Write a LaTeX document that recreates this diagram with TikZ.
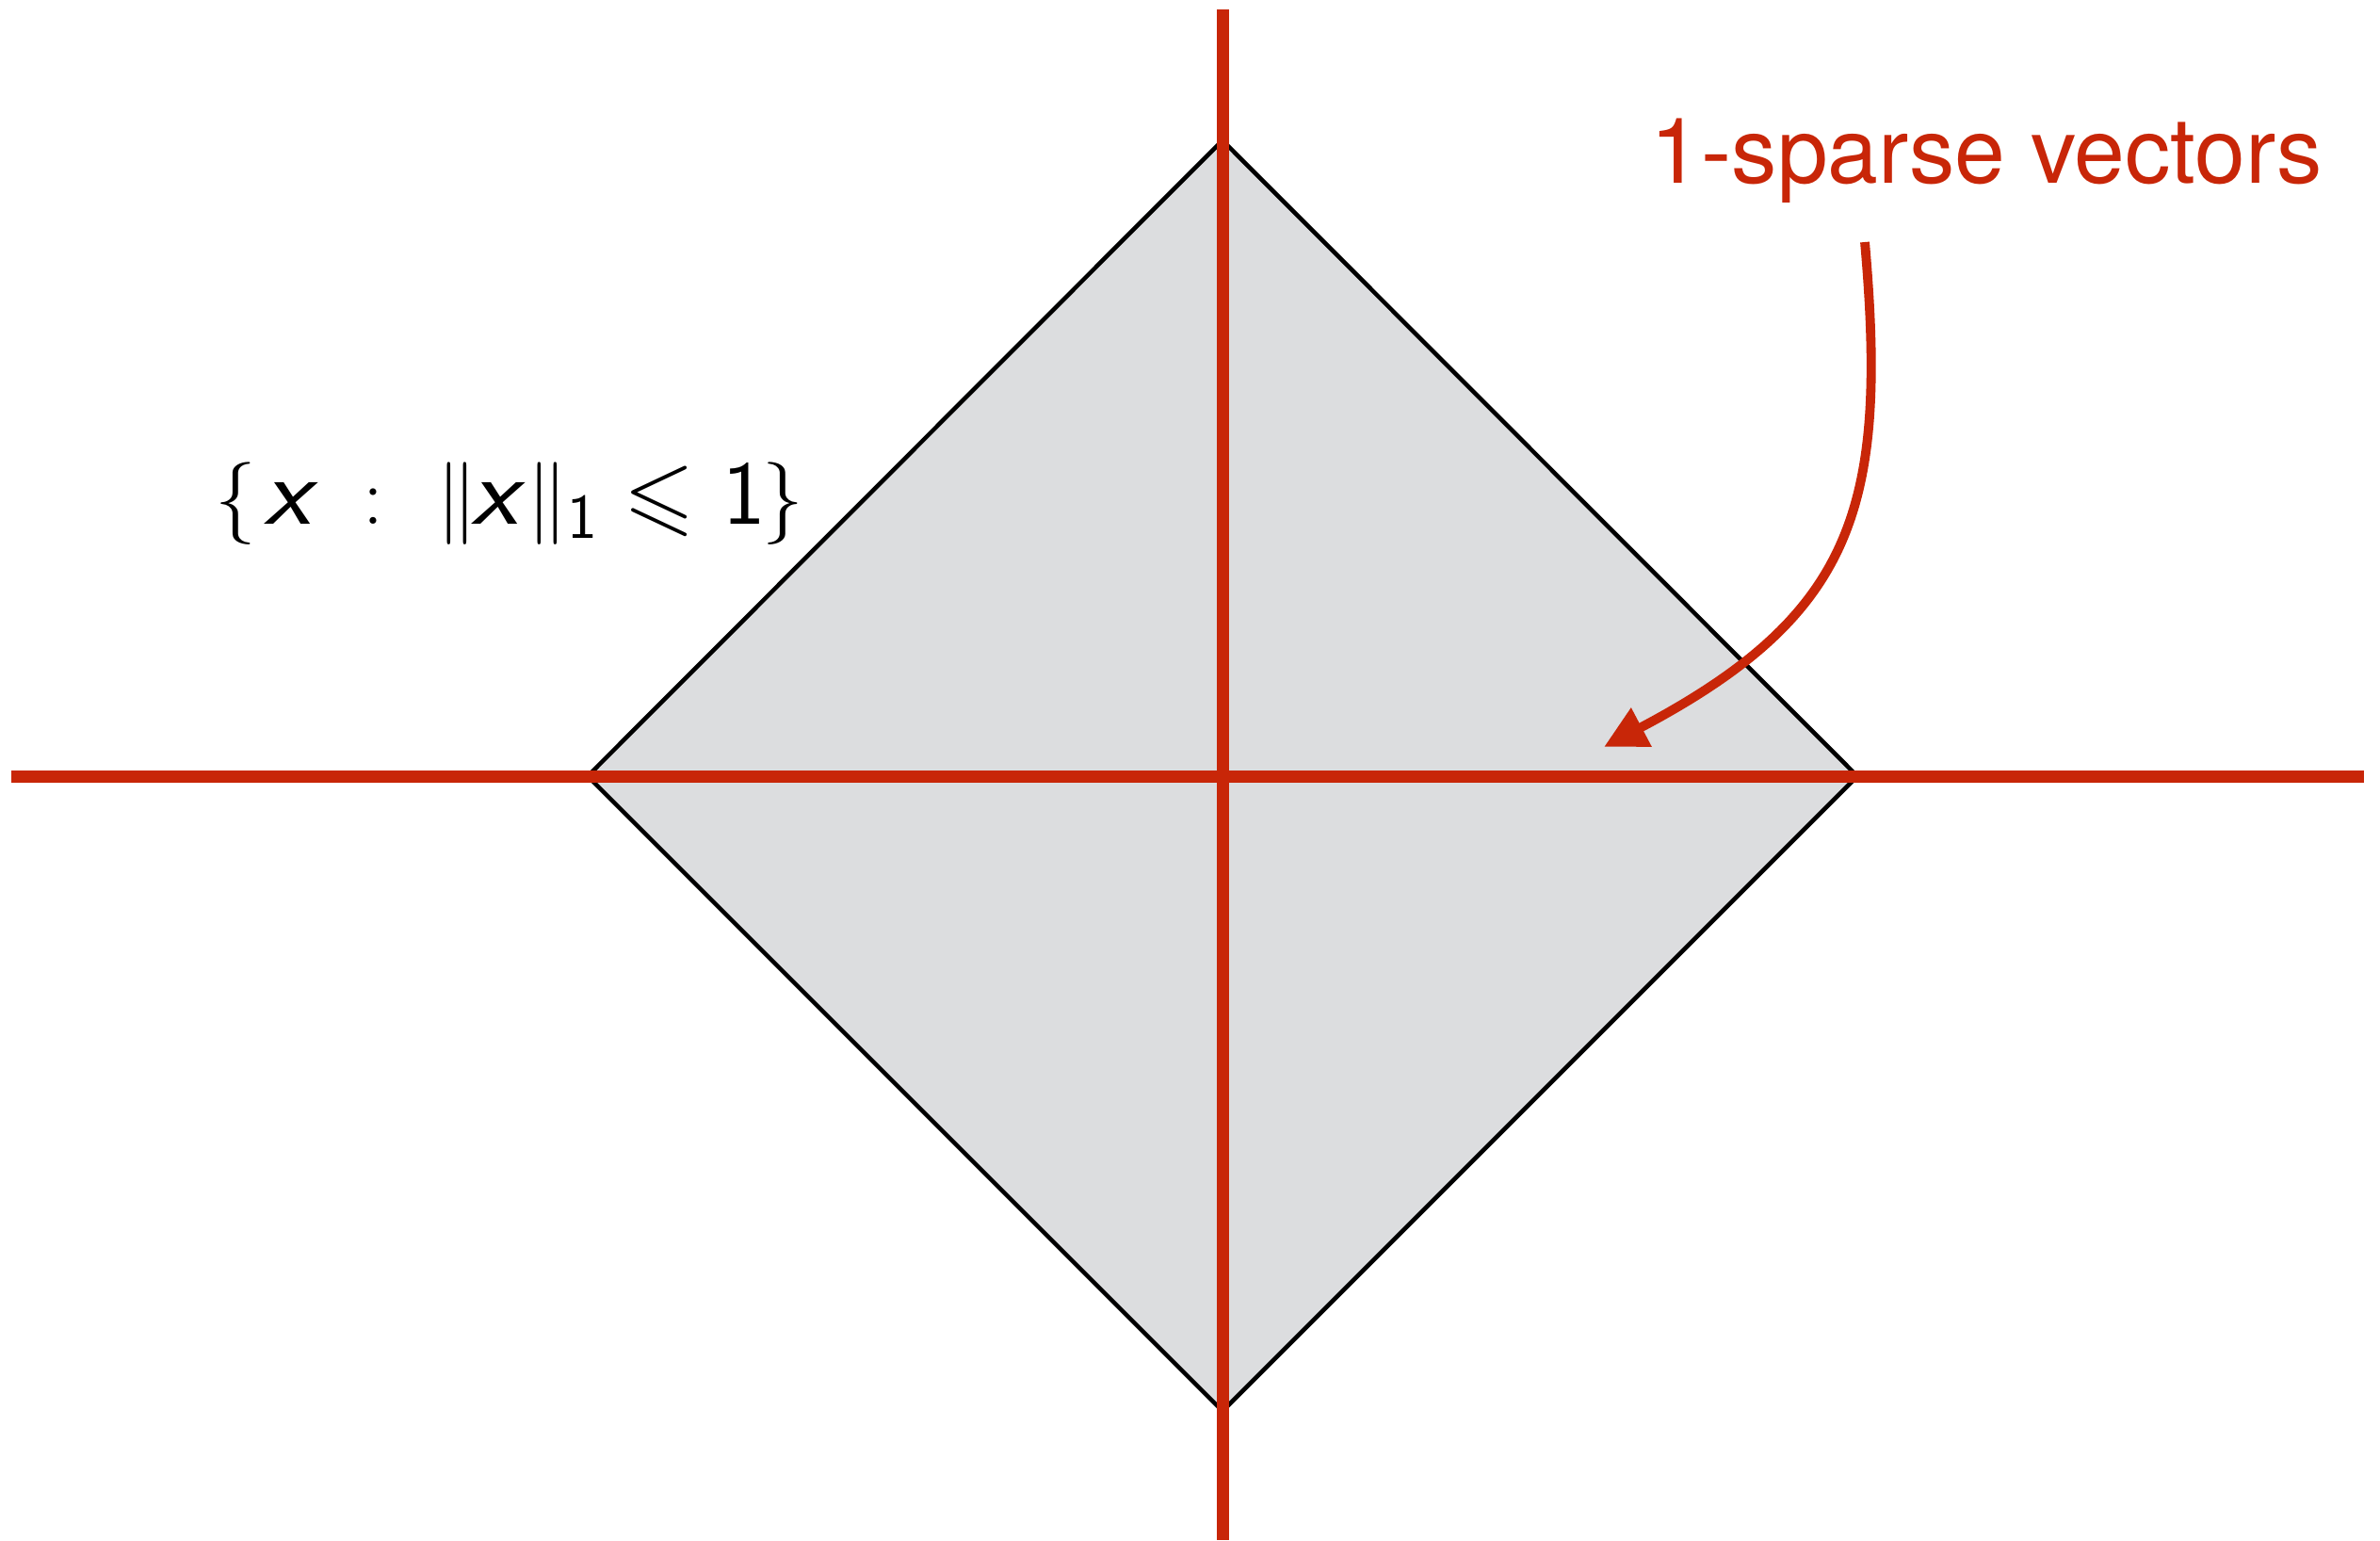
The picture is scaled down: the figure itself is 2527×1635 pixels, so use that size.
\documentclass[tikz,border=0pt]{standalone}
\usepackage{amsmath,amssymb}
\usepackage{fontspec}
\newfontfamily\heros{TeX Gyre Heros}
\usetikzlibrary{arrows.meta}
\definecolor{axisred}{RGB}{200,38,8}
\definecolor{ballgray}{RGB}{220,221,223}
\newcommand{\myx}{\text{\scalebox{1.18}[1.06]{\sffamily\itshape x}}}
\tikzset{
  axisline/.style={draw=axisred,line width=3.7pt},
  ballshape/.style={fill=ballgray,draw=black,line width=1.3pt,line join=miter},
  pointer/.style={draw=axisred,line width=2.8pt,-{Triangle[length=0.45cm,width=0.44cm,fill=axisred]}},
  redlabel/.style={text=axisred,inner sep=0pt,font=\heros\fontsize{27.5}{31}\selectfont},
  setlabel/.style={text=black,inner sep=0pt,font=\fontsize{27.5}{32}\selectfont},
}
\begin{document}
\begin{tikzpicture}[x=0.01cm,y=-0.01cm]
\useasboundingbox (0,0) rectangle (2527,1635);
\coordinate (top) at (1298,149);
\coordinate (bot) at (1298,1498);
\coordinate (lft) at (624,824);
\coordinate (rgt) at (1972,824);
\coordinate (vtop) at (1298,10);
\coordinate (vbot) at (1298,1635);
\coordinate (hlft) at (12,824);
\coordinate (hrgt) at (2510,824);
\path[ballshape] (top) -- (rgt) -- (bot) -- (lft) -- cycle;
\draw[axisline] (hlft) -- (hrgt);
\draw[axisline] (vtop) -- (vbot);
\node[redlabel,anchor=base west] (sparse) at (1752,194) {1-sparse vectors};
\coordinate (arrstart) at (1980,257);
\coordinate (arrtip) at (1703,793);
\draw[pointer] (arrstart) .. controls (2005,540) and (1968,653) .. (arrtip);
\node[setlabel,anchor=base west] (setl) at (228,556) {$\{\hspace{2.3pt}\myx\hspace{15.7pt}\mathord{:}\hspace{16pt}\|\hspace{-1.7pt}\myx\hspace{2.5pt}\|_{\mathsf{1}}\hspace{0.5pt} \leqslant\hspace{1.7pt} \mathsf{1}\hspace{-1.1pt}\}$};
\end{tikzpicture}
\end{document}
